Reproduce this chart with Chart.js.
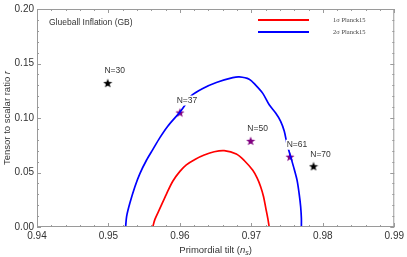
<!DOCTYPE html>
<html>
<head>
<meta charset="utf-8">
<script src="https://cdn.jsdelivr.net/npm/chart.js@4.4.1/dist/chart.umd.min.js"></script>
<style>
  html, body { margin: 0; padding: 0; background: #fff; }
  canvas { display: block; }
</style>
</head>
<body>
<canvas id="chart" width="407" height="257"></canvas>
<script>
// Planck15 contours (n_s, r)
const ns1 = [0.9562, 0.9565, 0.9572, 0.9581, 0.9590, 0.9600, 0.9609, 0.9621, 0.9634, 0.9648, 0.9662, 0.9679, 0.9690, 0.9702, 0.9708, 0.9713, 0.9717, 0.9720, 0.9723, 0.9725];
const r1  = [0.000,  0.007,  0.017,  0.030,  0.042,  0.051,  0.057,  0.062,  0.066,  0.069,  0.070,  0.067,  0.061,  0.052,  0.045,  0.037,  0.028,  0.018,  0.008,  0.000];

const ns2 = [0.9524, 0.95255, 0.9530, 0.9537, 0.9544, 0.9553, 0.9562, 0.9572, 0.9583, 0.9600, 0.9609, 0.9616, 0.9632, 0.9651, 0.9674, 0.9683, 0.9697, 0.9706, 0.9716, 0.9725, 0.9734, 0.9741, 0.9746, 0.9750, 0.9755, 0.9760, 0.9764, 0.9767, 0.9769, 0.9770, 0.9770];
const r2  = [0.000,  0.010,   0.022,  0.037,  0.049,  0.061,  0.071,  0.082,  0.0925, 0.1054, 0.1136, 0.1205, 0.1271, 0.1326, 0.1370, 0.1377, 0.1356, 0.1302, 0.1226, 0.1121, 0.1045, 0.0970, 0.0880, 0.0759, 0.0645, 0.0530, 0.0428, 0.0300, 0.0186, 0.0080, 0.000];

// e-folding points
const nLabels = ['N=30', 'N=37', 'N=50', 'N=61', 'N=70'];
const nsN     = [0.9499, 0.9600, 0.9699, 0.9754, 0.9787];
const rN      = [0.132,  0.105,  0.079,  0.0645, 0.0557];
const nColors = ['#000000', '#800080', '#800080', '#800080', '#000000'];

const xTicks = [0.94, 0.95, 0.96, 0.97, 0.98, 0.99];
const yTicks = [0.00, 0.05, 0.10, 0.15, 0.20];

const toPts = (xs, ys) => xs.map((x, i) => ({ x: x, y: ys[i] }));

// filled five point star for the markers
function makeStar(color) {
    const c = document.createElement('canvas');
    c.width = 10; c.height = 10;
    const g = c.getContext('2d');
    g.fillStyle = color;
    g.beginPath();
    for (let i = 0; i < 10; i++) {
        const rad = i % 2 === 0 ? 4.8 : 2.0;
        const a = -Math.PI / 2 + i * Math.PI / 5;
        g.lineTo(5 + rad * Math.cos(a), 5.4 + rad * Math.sin(a));
    }
    g.closePath();
    g.fill();
    return c;
}
const starImgs = nColors.map(makeStar);

const sans = '"Liberation Sans", Arial, sans-serif';

// frame with inward major / minor ticks on all sides
const framePlugin = {
    id: 'frame',
    afterDatasetsDraw(chart) {
        const { ctx, chartArea: a, scales } = chart;
        ctx.save();
        ctx.strokeStyle = '#9a9a9a';
        ctx.lineWidth = 1;
        ctx.strokeRect(a.left + 0.5, a.top + 0.5, a.right - a.left - 1, a.bottom - a.top - 1);
        ctx.beginPath();
        const xs = scales.x, ys = scales.y;
        for (let k = 0; k <= 25; k++) {
            const v = xs.min + k * 0.002;
            const px = Math.round(xs.getPixelForValue(v)) + 0.5;
            const len = k % 5 === 0 ? 4 : 2;
            ctx.moveTo(px, a.bottom); ctx.lineTo(px, a.bottom - len);
            ctx.moveTo(px, a.top); ctx.lineTo(px, a.top + len);
        }
        for (let k = 0; k <= 20; k++) {
            const v = k * 0.01;
            const py = Math.round(ys.getPixelForValue(v)) + 0.5;
            const len = k % 5 === 0 ? 4 : 2;
            ctx.moveTo(a.left, py); ctx.lineTo(a.left + len, py);
            ctx.moveTo(a.right, py); ctx.lineTo(a.right - len, py);
        }
        ctx.stroke();
        ctx.restore();
    }
};

// texts: panel title, axis titles, N labels, legend
const textPlugin = {
    id: 'texts',
    afterDraw(chart) {
        const { ctx, chartArea: a } = chart;
        ctx.save();
        ctx.fillStyle = '#333';
        ctx.textBaseline = 'middle';

        ctx.font = '8.5px ' + sans;
        ctx.textAlign = 'left';
        ctx.fillText('Glueball Inflation (GB)', 49, 23);

        // N labels above the stars, on a white box like the original
        ctx.textAlign = 'center';
        const meta = chart.getDatasetMeta(2);
        meta.data.forEach((pt, i) => {
            const lx = pt.x + 7, ly = pt.y - 12;
            const w = ctx.measureText(nLabels[i]).width;
            ctx.fillStyle = '#fff';
            ctx.fillRect(lx - w / 2 - 1, ly - 5, w + 2, 10);
            ctx.fillStyle = '#333';
            ctx.fillText(nLabels[i], lx, ly);
        });

        // x title with subscript
        const t1 = 'Primordial tilt (';
        ctx.font = '9.5px ' + sans;
        const w1 = ctx.measureText(t1).width;
        ctx.font = 'italic 9.5px ' + sans;
        const wn = ctx.measureText('n').width;
        ctx.font = 'italic 7px ' + sans;
        const ws = ctx.measureText('s').width;
        ctx.font = '9.5px ' + sans;
        const wp = ctx.measureText(')').width;
        let x0 = (a.left + a.right) / 2 - (w1 + wn + ws + wp) / 2;
        const yT = 250;
        ctx.textAlign = 'left';
        ctx.fillText(t1, x0, yT); x0 += w1;
        ctx.font = 'italic 9.5px ' + sans;
        ctx.fillText('n', x0, yT); x0 += wn;
        ctx.font = 'italic 7px ' + sans;
        ctx.fillText('s', x0, yT + 3); x0 += ws;
        ctx.font = '9.5px ' + sans;
        ctx.fillText(')', x0, yT);

        // y title rotated
        ctx.translate(7, (a.top + a.bottom) / 2);
        ctx.rotate(-Math.PI / 2);
        const t2 = 'Tensor to scalar ratio ';
        ctx.font = '9.5px ' + sans;
        const w2 = ctx.measureText(t2).width;
        ctx.font = 'italic 9.5px ' + sans;
        const wr = ctx.measureText('r').width;
        const y0 = -(w2 + wr) / 2;
        ctx.font = '9.5px ' + sans;
        ctx.fillText(t2, y0, 0);
        ctx.font = 'italic 9.5px ' + sans;
        ctx.fillText('r', y0 + w2, 0);
        ctx.setTransform(1, 0, 0, 1, 0, 0);

        // legend
        const legY = [20, 32];
        [0, 1].forEach(i => {
            const ds = chart.data.datasets[i];
            ctx.strokeStyle = ds.borderColor;
            ctx.lineWidth = 2;
            ctx.beginPath();
            ctx.moveTo(258, legY[i]); ctx.lineTo(309, legY[i]);
            ctx.stroke();
            ctx.fillStyle = '#444';
            ctx.font = '6.5px "Liberation Serif", "Times New Roman", serif';
            ctx.textAlign = 'left';
            ctx.fillText(ds.label, 333, legY[i]);
        });
        ctx.restore();
    }
};

new Chart(document.getElementById('chart'), {
    type: 'scatter',
    data: {
        datasets: [
            {
                label: '1σ Planck15',
                data: toPts(ns1, r1),
                showLine: true,
                borderColor: '#ff0000',
                borderWidth: 1.7,
                pointRadius: 0,
                tension: 0.3
            },
            {
                label: '2σ Planck15',
                data: toPts(ns2, r2),
                showLine: true,
                borderColor: '#0000ff',
                borderWidth: 1.7,
                pointRadius: 0,
                tension: 0.3
            },
            {
                label: 'N',
                data: toPts(nsN, rN),
                showLine: false,
                pointStyle: starImgs
            }
        ]
    },
    options: {
        responsive: false,
        animation: false,
        layout: { padding: { top: 6, right: 11, left: 0, bottom: 0 } },
        plugins: {
            legend: { display: false },
            tooltip: { enabled: false }
        },
        scales: {
            x: {
                type: 'linear',
                min: 0.94,
                max: 0.99,
                afterBuildTicks: s => { s.ticks = xTicks.map(v => ({ value: v })); },
                afterFit: s => { s.height = 30; },
                grid: { display: false, drawTicks: false },
                border: { display: false },
                ticks: {
                    padding: 3,
                    maxRotation: 0,
                    autoSkip: false,
                    color: '#333',
                    font: { family: sans, size: 10 },
                    callback: v => v.toFixed(2)
                }
            },
            y: {
                type: 'linear',
                min: 0,
                max: 0.2,
                afterBuildTicks: s => { s.ticks = yTicks.map(v => ({ value: v })); },
                afterFit: s => { s.width = 37; },
                grid: { display: false, drawTicks: false },
                border: { display: false },
                ticks: {
                    padding: 3,
                    autoSkip: false,
                    color: '#333',
                    font: { family: sans, size: 10 },
                    callback: v => v.toFixed(2)
                }
            }
        }
    },
    plugins: [framePlugin, textPlugin]
});
</script>
</body>
</html>
